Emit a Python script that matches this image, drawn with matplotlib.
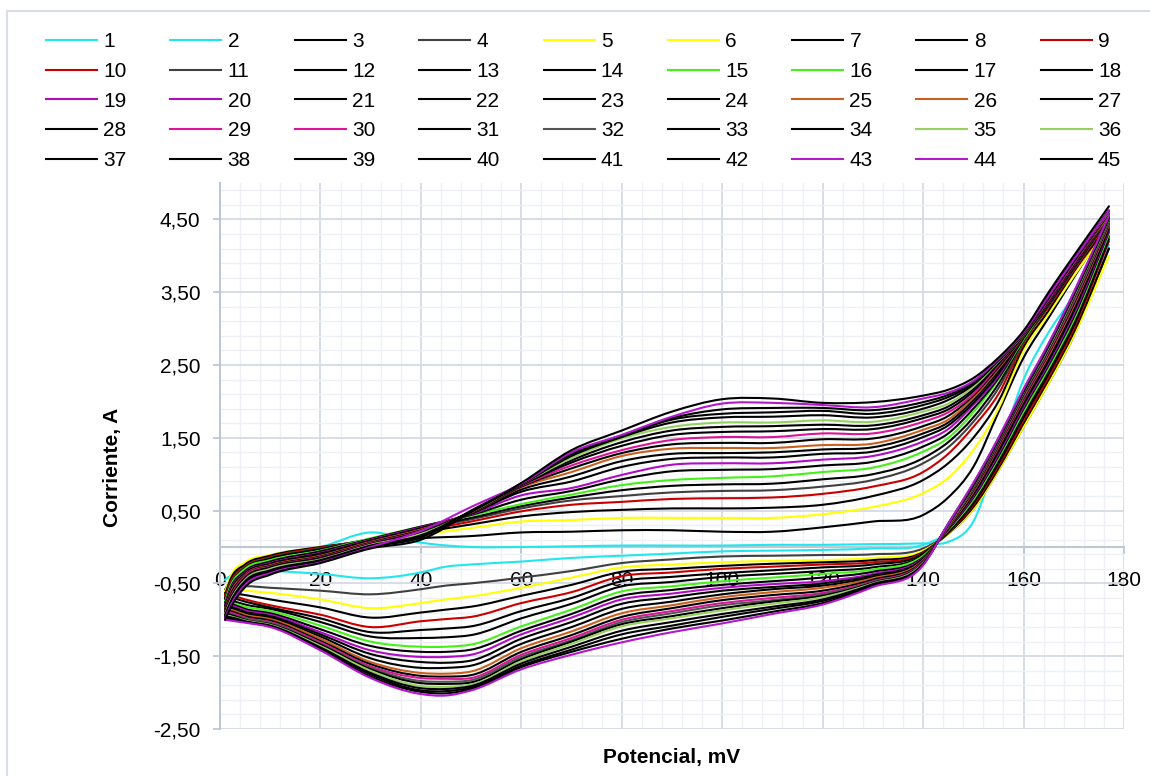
"""Cyclic voltammograms: 45 series (upper and lower branch of each cycle)."""

import numpy as np
import matplotlib
matplotlib.use("Agg")
import matplotlib.pyplot as plt
from matplotlib.path import Path
from matplotlib.patches import PathPatch
from matplotlib.lines import Line2D

plt.rcParams["font.family"] = ["Liberation Sans", "DejaVu Sans"]

# potentials (mV) at which the branches were read
x_up = [1, 2, 5, 10, 20, 30, 40, 50, 60, 70, 80, 90, 100, 110, 120, 130, 140, 145, 150, 155, 160, 165, 170, 177]
x_dn = [1, 3, 5, 10, 20, 30, 40, 45, 50, 60, 70, 80, 90, 100, 110, 120, 130, 140, 145, 150, 155, 160, 165, 170, 177]

# upper branch of each cycle (odd series), current in A
up_01 = [-0.45, -0.40, -0.28, -0.12, 0.00, 0.20, 0.06, 0.00, 0.00, 0.01, 0.02, 0.02, 0.02, 0.03, 0.03, 0.04, 0.05, 0.07, 0.35, 1.30, 2.30, 2.95, 3.45, 4.25]
up_02 = [-0.60, -0.45, -0.28, -0.15, -0.01, 0.05, 0.12, 0.15, 0.20, 0.21, 0.23, 0.23, 0.21, 0.21, 0.27, 0.35, 0.44, 0.68, 1.10, 1.85, 2.60, 3.15, 3.70, 4.45]
up_03 = [-0.62, -0.42, -0.21, -0.11, 0.00, 0.08, 0.17, 0.26, 0.35, 0.37, 0.40, 0.40, 0.40, 0.40, 0.45, 0.55, 0.74, 0.95, 1.33, 1.90, 2.70, 3.20, 3.72, 4.40]
up_04 = [-0.66, -0.46, -0.24, -0.12, 0.00, 0.09, 0.20, 0.31, 0.42, 0.48, 0.51, 0.53, 0.53, 0.54, 0.58, 0.70, 0.92, 1.15, 1.50, 2.00, 2.75, 3.25, 3.78, 4.45]
up_05 = [-0.70, -0.50, -0.27, -0.14, -0.01, 0.10, 0.22, 0.35, 0.49, 0.58, 0.62, 0.66, 0.67, 0.68, 0.73, 0.83, 1.03, 1.28, 1.65, 2.10, 2.80, 3.30, 3.80, 4.50]
up_06 = [-0.72, -0.52, -0.28, -0.15, -0.02, 0.11, 0.24, 0.38, 0.53, 0.64, 0.70, 0.75, 0.77, 0.78, 0.83, 0.92, 1.15, 1.37, 1.72, 2.18, 2.82, 3.32, 3.82, 4.52]
up_07 = [-0.74, -0.54, -0.29, -0.16, -0.03, 0.11, 0.26, 0.40, 0.56, 0.68, 0.78, 0.84, 0.86, 0.87, 0.93, 1.00, 1.22, 1.44, 1.78, 2.24, 2.84, 3.33, 3.83, 4.53]
up_08 = [-0.75, -0.55, -0.30, -0.18, -0.05, 0.12, 0.28, 0.43, 0.59, 0.72, 0.85, 0.92, 0.95, 0.97, 1.03, 1.09, 1.31, 1.50, 1.85, 2.30, 2.85, 3.35, 3.85, 4.55]
up_09 = [-0.78, -0.58, -0.33, -0.20, -0.06, 0.11, 0.28, 0.44, 0.65, 0.77, 0.93, 1.04, 1.06, 1.07, 1.12, 1.17, 1.38, 1.56, 1.90, 2.32, 2.87, 3.35, 3.85, 4.55]
up_10 = [-0.80, -0.60, -0.35, -0.22, -0.08, 0.10, 0.27, 0.45, 0.71, 0.81, 0.99, 1.13, 1.15, 1.15, 1.20, 1.25, 1.45, 1.62, 1.95, 2.35, 2.90, 3.37, 3.87, 4.55]
up_11 = [-0.82, -0.62, -0.36, -0.23, -0.09, 0.09, 0.26, 0.46, 0.76, 0.90, 1.10, 1.21, 1.23, 1.23, 1.28, 1.31, 1.51, 1.67, 1.98, 2.38, 2.90, 3.38, 3.88, 4.55]
up_12 = [-0.84, -0.64, -0.37, -0.24, -0.10, 0.08, 0.25, 0.46, 0.79, 0.97, 1.18, 1.28, 1.29, 1.30, 1.34, 1.37, 1.56, 1.71, 2.02, 2.42, 2.90, 3.39, 3.89, 4.55]
up_13 = [-0.85, -0.65, -0.38, -0.25, -0.12, 0.07, 0.24, 0.47, 0.82, 1.03, 1.25, 1.35, 1.36, 1.36, 1.40, 1.42, 1.61, 1.75, 2.05, 2.45, 2.90, 3.40, 3.90, 4.55]
up_14 = [-0.86, -0.67, -0.39, -0.26, -0.13, 0.06, 0.23, 0.47, 0.83, 1.08, 1.29, 1.41, 1.43, 1.43, 1.48, 1.49, 1.66, 1.80, 2.08, 2.47, 2.91, 3.40, 3.90, 4.58]
up_15 = [-0.88, -0.70, -0.40, -0.27, -0.14, 0.05, 0.22, 0.48, 0.84, 1.12, 1.33, 1.47, 1.51, 1.51, 1.56, 1.56, 1.72, 1.85, 2.10, 2.50, 2.92, 3.40, 3.90, 4.60]
up_16 = [-0.89, -0.72, -0.42, -0.28, -0.15, 0.04, 0.21, 0.48, 0.85, 1.16, 1.39, 1.54, 1.58, 1.59, 1.62, 1.62, 1.77, 1.89, 2.14, 2.52, 2.92, 3.42, 3.92, 4.60]
up_17 = [-0.90, -0.73, -0.43, -0.29, -0.16, 0.03, 0.19, 0.48, 0.85, 1.19, 1.44, 1.60, 1.65, 1.66, 1.68, 1.67, 1.81, 1.93, 2.17, 2.53, 2.93, 3.43, 3.93, 4.60]
up_18 = [-0.92, -0.75, -0.45, -0.30, -0.17, 0.03, 0.18, 0.48, 0.86, 1.22, 1.49, 1.65, 1.71, 1.71, 1.74, 1.72, 1.86, 1.97, 2.20, 2.55, 2.93, 3.45, 3.95, 4.60]
up_19 = [-0.94, -0.77, -0.47, -0.32, -0.18, 0.02, 0.16, 0.49, 0.86, 1.25, 1.51, 1.71, 1.78, 1.79, 1.81, 1.78, 1.90, 2.02, 2.23, 2.56, 2.94, 3.45, 3.95, 4.62]
up_20 = [-0.95, -0.79, -0.49, -0.33, -0.19, 0.01, 0.15, 0.49, 0.87, 1.27, 1.52, 1.75, 1.83, 1.85, 1.87, 1.83, 1.95, 2.06, 2.25, 2.57, 2.94, 3.45, 3.95, 4.62]
up_21 = [-0.97, -0.80, -0.50, -0.34, -0.20, 0.00, 0.13, 0.50, 0.87, 1.29, 1.53, 1.77, 1.89, 1.91, 1.91, 1.88, 1.99, 2.09, 2.27, 2.58, 2.95, 3.45, 3.95, 4.62]
up_22 = [-0.98, -0.82, -0.52, -0.36, -0.21, 0.00, 0.22, 0.55, 0.87, 1.30, 1.54, 1.79, 1.97, 1.98, 1.95, 1.92, 2.04, 2.12, 2.28, 2.58, 2.95, 3.45, 3.95, 4.62]
up_23 = [-1.00, -0.85, -0.55, -0.38, -0.22, -0.02, 0.10, 0.48, 0.88, 1.33, 1.60, 1.86, 2.03, 2.04, 1.98, 1.99, 2.08, 2.16, 2.32, 2.60, 2.97, 3.50, 4.00, 4.68]

# lower branch of each cycle (even series)
dn_01 = [-0.45, -0.36, -0.33, -0.33, -0.37, -0.43, -0.35, -0.27, -0.24, -0.20, -0.15, -0.12, -0.09, -0.06, -0.05, -0.04, -0.02, 0.03, 0.20, 0.58, 1.15, 1.80, 2.40, 3.10, 4.15]
dn_02 = [-0.58, -0.55, -0.54, -0.56, -0.60, -0.65, -0.58, -0.53, -0.50, -0.42, -0.33, -0.22, -0.17, -0.13, -0.12, -0.11, -0.10, -0.02, 0.18, 0.52, 1.05, 1.65, 2.25, 2.90, 4.10]
dn_03 = [-0.60, -0.59, -0.60, -0.63, -0.72, -0.84, -0.77, -0.72, -0.68, -0.56, -0.42, -0.28, -0.24, -0.21, -0.19, -0.18, -0.15, -0.05, 0.18, 0.52, 1.05, 1.65, 2.25, 2.90, 4.00]
dn_04 = [-0.63, -0.64, -0.66, -0.72, -0.83, -0.97, -0.90, -0.86, -0.82, -0.67, -0.52, -0.34, -0.30, -0.26, -0.23, -0.21, -0.18, -0.07, 0.19, 0.55, 1.08, 1.70, 2.30, 2.95, 4.10]
dn_05 = [-0.66, -0.68, -0.72, -0.80, -0.93, -1.10, -1.02, -0.99, -0.96, -0.77, -0.62, -0.40, -0.35, -0.30, -0.27, -0.24, -0.21, -0.08, 0.20, 0.58, 1.12, 1.74, 2.34, 3.00, 4.20]
dn_06 = [-0.69, -0.71, -0.75, -0.83, -0.98, -1.17, -1.14, -1.12, -1.09, -0.88, -0.70, -0.47, -0.41, -0.36, -0.32, -0.28, -0.24, -0.09, 0.21, 0.60, 1.15, 1.78, 2.38, 3.04, 4.23]
dn_07 = [-0.71, -0.75, -0.79, -0.85, -1.03, -1.23, -1.25, -1.24, -1.21, -0.98, -0.78, -0.54, -0.48, -0.41, -0.37, -0.33, -0.28, -0.11, 0.22, 0.63, 1.19, 1.82, 2.42, 3.08, 4.27]
dn_08 = [-0.74, -0.78, -0.82, -0.88, -1.08, -1.30, -1.37, -1.37, -1.34, -1.09, -0.86, -0.61, -0.54, -0.47, -0.42, -0.37, -0.31, -0.12, 0.23, 0.65, 1.22, 1.86, 2.46, 3.12, 4.30]
dn_09 = [-0.76, -0.80, -0.85, -0.91, -1.13, -1.36, -1.44, -1.44, -1.41, -1.15, -0.92, -0.67, -0.59, -0.52, -0.47, -0.42, -0.34, -0.14, 0.24, 0.68, 1.25, 1.90, 2.50, 3.16, 4.33]
dn_10 = [-0.78, -0.82, -0.87, -0.93, -1.17, -1.42, -1.51, -1.51, -1.48, -1.20, -0.97, -0.72, -0.64, -0.56, -0.51, -0.47, -0.37, -0.15, 0.25, 0.70, 1.28, 1.93, 2.53, 3.20, 4.35]
dn_11 = [-0.80, -0.84, -0.89, -0.95, -1.20, -1.47, -1.58, -1.59, -1.56, -1.26, -1.03, -0.78, -0.69, -0.60, -0.55, -0.50, -0.39, -0.16, 0.26, 0.72, 1.31, 1.96, 2.56, 3.24, 4.37]
dn_12 = [-0.82, -0.86, -0.91, -0.97, -1.23, -1.53, -1.66, -1.66, -1.63, -1.33, -1.10, -0.85, -0.75, -0.65, -0.58, -0.53, -0.41, -0.17, 0.26, 0.74, 1.34, 1.99, 2.60, 3.27, 4.40]
dn_13 = [-0.84, -0.88, -0.93, -0.99, -1.26, -1.58, -1.73, -1.74, -1.71, -1.39, -1.16, -0.91, -0.80, -0.69, -0.62, -0.56, -0.43, -0.18, 0.27, 0.76, 1.37, 2.02, 2.63, 3.31, 4.42]
dn_14 = [-0.86, -0.90, -0.95, -1.01, -1.29, -1.61, -1.77, -1.78, -1.76, -1.44, -1.21, -0.96, -0.84, -0.73, -0.66, -0.60, -0.45, -0.19, 0.28, 0.78, 1.39, 2.04, 2.66, 3.34, 4.44]
dn_15 = [-0.88, -0.92, -0.97, -1.03, -1.31, -1.64, -1.80, -1.81, -1.80, -1.48, -1.25, -1.00, -0.88, -0.77, -0.70, -0.63, -0.47, -0.20, 0.29, 0.80, 1.41, 2.06, 2.68, 3.37, 4.46]
dn_16 = [-0.90, -0.94, -0.98, -1.04, -1.33, -1.66, -1.84, -1.85, -1.83, -1.51, -1.28, -1.03, -0.91, -0.80, -0.73, -0.65, -0.48, -0.21, 0.29, 0.81, 1.43, 2.08, 2.70, 3.39, 4.47]
dn_17 = [-0.91, -0.95, -1.00, -1.06, -1.34, -1.68, -1.87, -1.88, -1.86, -1.54, -1.30, -1.06, -0.95, -0.84, -0.75, -0.67, -0.49, -0.21, 0.30, 0.82, 1.44, 2.10, 2.72, 3.42, 4.49]
dn_18 = [-0.93, -0.97, -1.01, -1.07, -1.36, -1.70, -1.91, -1.92, -1.89, -1.57, -1.33, -1.09, -0.98, -0.87, -0.78, -0.69, -0.50, -0.22, 0.30, 0.83, 1.46, 2.12, 2.74, 3.44, 4.50]
dn_19 = [-0.95, -0.98, -1.02, -1.08, -1.38, -1.73, -1.94, -1.95, -1.91, -1.60, -1.37, -1.15, -1.03, -0.92, -0.82, -0.72, -0.51, -0.23, 0.31, 0.84, 1.47, 2.13, 2.76, 3.46, 4.51]
dn_20 = [-0.97, -1.00, -1.03, -1.09, -1.39, -1.75, -1.97, -1.98, -1.93, -1.63, -1.41, -1.20, -1.08, -0.96, -0.85, -0.74, -0.53, -0.24, 0.31, 0.86, 1.48, 2.15, 2.77, 3.47, 4.53]
dn_21 = [-0.98, -1.01, -1.03, -1.09, -1.41, -1.78, -1.99, -2.01, -1.95, -1.65, -1.44, -1.26, -1.12, -1.01, -0.89, -0.77, -0.54, -0.24, 0.32, 0.87, 1.49, 2.16, 2.79, 3.49, 4.54]
dn_22 = [-1.00, -1.02, -1.04, -1.10, -1.42, -1.80, -2.02, -2.04, -1.97, -1.68, -1.48, -1.31, -1.17, -1.05, -0.92, -0.79, -0.55, -0.25, 0.32, 0.88, 1.50, 2.17, 2.80, 3.50, 4.55]

upper = [up_01, up_02, up_03, up_04, up_05, up_06, up_07, up_08, up_09, up_10, up_11, up_12,
         up_13, up_14, up_15, up_16, up_17, up_18, up_19, up_20, up_21, up_22, up_23]
lower = [dn_01, dn_02, dn_03, dn_04, dn_05, dn_06, dn_07, dn_08, dn_09, dn_10, dn_11, dn_12,
         dn_13, dn_14, dn_15, dn_16, dn_17, dn_18, dn_19, dn_20, dn_21, dn_22]

labels = [str(i) for i in range(1, 46)]

CYAN, YEL, RED, GRN, PUR = "#22E6EE", "#FFFF00", "#C80000", "#44F018", "#B00CC4"
ORG, PNK, LGR, PUR2, K, G = "#C8601E", "#DC1497", "#98D060", "#B418CC", "#000000", "#404040"
colors = [CYAN, CYAN, K, G, YEL, YEL, K, K, RED, RED,
          G, K, K, K, GRN, GRN, K, K, PUR, PUR,
          K, K, K, K, ORG, ORG, K, K, PNK, PNK,
          K, "#555555", K, K, LGR, LGR, K, K, K, K,
          K, K, PUR2, PUR2, K]


def smooth_path(xs, ys):
    """Cubic Hermite path through the read points (like a smoothed scatter line)."""
    xs = np.asarray(xs, float)
    ys = np.asarray(ys, float)
    m = np.gradient(ys, xs)
    verts = [(xs[0], ys[0])]
    codes = [Path.MOVETO]
    for i in range(len(xs) - 1):
        h = xs[i + 1] - xs[i]
        verts += [(xs[i] + h / 3, ys[i] + m[i] * h / 3),
                  (xs[i + 1] - h / 3, ys[i + 1] - m[i + 1] * h / 3),
                  (xs[i + 1], ys[i + 1])]
        codes += [Path.CURVE4] * 3
    return Path(verts, codes)


W, H = 1150, 776
fig = plt.figure(figsize=(W / 100, H / 100), dpi=100)
ax = fig.add_axes([220 / W, 1 - 729 / H, 904 / W, 546 / H])

handles = []
for s in range(45):
    cyc = s // 2
    if s % 2 == 0:
        xs, ys = x_up, upper[cyc]
    else:
        xs, ys = x_dn, lower[cyc]
    ax.add_patch(PathPatch(smooth_path(xs, ys), facecolor="none", edgecolor=colors[s],
                           lw=1.5, capstyle="round", joinstyle="round", zorder=3 + s * 0.01))
    handles.append(Line2D([], [], color=colors[s], lw=1.5))

ax.set_xlim(0, 180)
ax.set_ylim(-2.5, 5.0)

major_y = np.arange(-2.5, 4.6, 1.0)
ax.set_yticks(major_y)
ax.set_yticklabels([f"{v:.2f}".replace(".", ",") for v in major_y])
ax.set_yticks(np.arange(-2.5, 5.0, 0.2), minor=True)
ax.set_xticks(np.arange(0, 181, 20))
ax.set_xticks(np.arange(0, 181, 4), minor=True)

spine_c, major_c, minor_c = "#BFC6D4", "#D5DAE5", "#EEF0F5"
ax.grid(True, which="major", color=major_c, lw=1.3, zorder=0)
ax.grid(True, which="minor", color=minor_c, lw=1.0, zorder=0)
ax.set_axisbelow(True)
for side in ("top", "right"):
    ax.spines[side].set_visible(False)
ax.spines["bottom"].set_position(("data", 0))
ax.spines["left"].set_position(("data", 0))
for side in ("bottom", "left"):
    ax.spines[side].set_color(spine_c)
    ax.spines[side].set_linewidth(1.5)
ax.tick_params(which="major", length=5, width=1.3, color=spine_c, labelsize=15,
               labelcolor="#000000")
ax.tick_params(axis="y", which="major", pad=9)
ax.tick_params(axis="x", which="major", pad=12)
ax.tick_params(which="minor", length=0)

ax.set_xlabel("Potencial, mV", fontsize=15, fontweight="bold")
ax.set_ylabel("Corriente, A", fontsize=15, fontweight="bold")
ax.xaxis.set_label_coords(0.5, -0.035)
ax.yaxis.set_label_coords(-0.108, 0.48)

# legend laid out row by row (matplotlib fills columns first)
order = [r * 9 + c for c in range(9) for r in range(5)]
fig.legend([handles[i] for i in order], [labels[i] for i in order],
           ncol=9, loc="upper left", bbox_to_anchor=(46 / W, 1 - 32 / H),
           frameon=False, fontsize=15, handlelength=2.45, handletextpad=0.3,
           columnspacing=2.1, labelspacing=0.52, borderpad=0, borderaxespad=0)

# chart-area border
fig.add_artist(Line2D([7 / W, 1.0], [1 - 11 / H] * 2, color="#D9DDE5", lw=1.5,
                      transform=fig.transFigure))
fig.add_artist(Line2D([7 / W] * 2, [0.0, 1 - 11 / H], color="#D9DDE5", lw=1.5,
                      transform=fig.transFigure))

fig.savefig("out.png", dpi=100)
